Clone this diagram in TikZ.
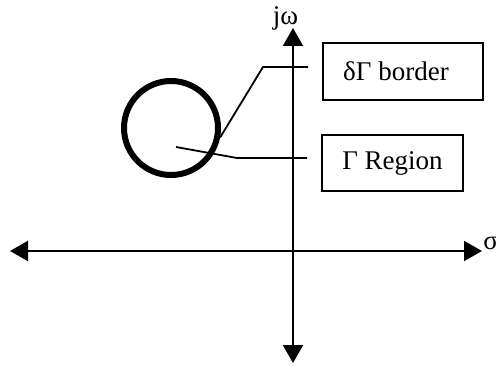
\documentclass[tikz,border=0pt]{standalone}
\usepackage{fontspec}
\setmainfont{Liberation Serif}
\usetikzlibrary{arrows.meta,positioning}
\definecolor{planeink}{HTML}{000000}
\tikzset{
  ax/.style={line width=1pt, color=planeink, {Triangle[length=9pt,width=10pt]}-{Triangle[length=9pt,width=10pt]}},
  lbx/.style={draw=planeink, line width=0.9pt, inner sep=0pt, align=center, font=\fontsize{13.5}{15}\selectfont},
  ldr/.style={line width=0.9pt, color=planeink},
  ring/.style={circle, draw=planeink, line width=3pt, minimum size=47pt, inner sep=0pt},
  axl/.style={font=\fontsize{13.5}{15}\selectfont, inner sep=0pt},
}
\begin{document}
\begin{tikzpicture}[x=0.5pt, y=-0.5pt]
  \useasboundingbox (0,0) rectangle (496,369);
  % axes
  \coordinate (ytop) at (293,28);
  \coordinate (ybot) at (293,363);
  \coordinate (xlft) at (10,251);
  \coordinate (xrgt) at (482,251);
  \draw[ax] (ybot) -- (ytop);
  \draw[ax] (xlft) -- (xrgt);
  \node[axl, anchor=base] (jw) at (285.5,25) {jω};
  \node[axl, anchor=base west] (sig) at (483,249) {σ};
  % region and its border
  \node[ring] (circ) at (171,128) {};
  \node[lbx, minimum width=80pt, minimum height=28.5pt] (bord) at (403,71.5) {\hspace*{-7pt}δΓ border};
  \node[lbx, minimum width=70.5pt, minimum height=28pt] (regn) at (392.5,163) {Γ Region};
  \coordinate (bordend) at (308,67);
  \coordinate (regnin) at (176,147);
  \coordinate (regnend) at (307,158);
  \draw[ldr] (circ.-11) -- (263,67) -- (bordend);
  \draw[ldr] (regnin) -- (237,158) -- (regnend);
\end{tikzpicture}
\end{document}
